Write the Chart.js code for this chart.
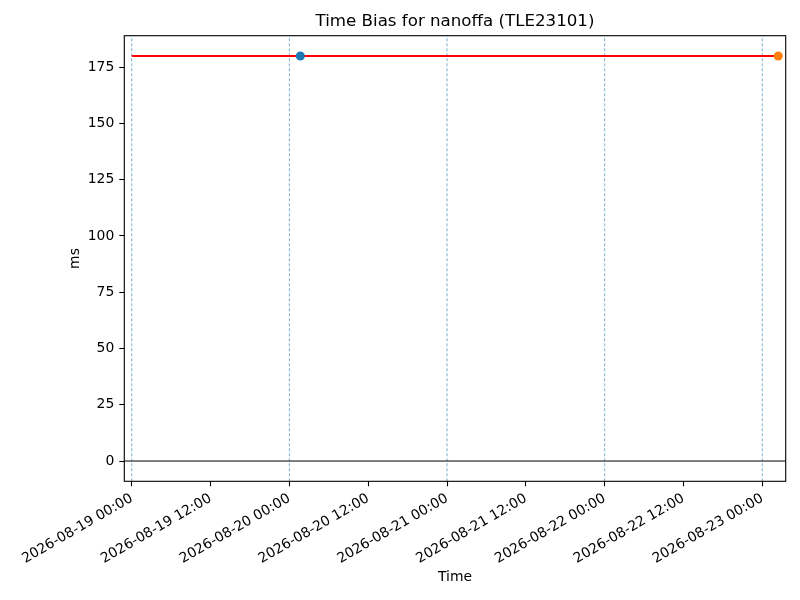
<!DOCTYPE html>
<html>
<head>
<meta charset="utf-8">
<script src="https://cdn.jsdelivr.net/npm/chart.js@4.4.0/dist/chart.umd.min.js"></script>
<style>
  body { margin: 0; background: #fff; }
</style>
</head>
<body>
<canvas id="myChart" width="800" height="600"></canvas>
<script>
const biasTimes = ['2026-08-19T00:00:00Z', '2026-08-23T02:26:00Z'];
const biasValues = [180, 180];

const pointTimes = ['2026-08-20T01:40:00Z', '2026-08-23T02:26:00Z'];
const pointValues = [180, 180];
const pointColors = ['#1f77b4', '#ff7f0e'];

const markerTimes = ['2026-08-19T00:00:00Z', '2026-08-20T00:00:00Z', '2026-08-21T00:00:00Z', '2026-08-22T00:00:00Z', '2026-08-23T00:00:00Z'];

const xTickTimes = ['2026-08-19T00:00:00Z', '2026-08-19T12:00:00Z', '2026-08-20T00:00:00Z', '2026-08-20T12:00:00Z', '2026-08-21T00:00:00Z', '2026-08-21T12:00:00Z', '2026-08-22T00:00:00Z', '2026-08-22T12:00:00Z', '2026-08-23T00:00:00Z'];
const yTicks = [0, 25, 50, 75, 100, 125, 150, 175];

const xRange = ['2026-08-18T22:52:00Z', '2026-08-23T03:34:00Z'];
const yRange = [-9, 189];

const font = 'DejaVu Sans';

function ms(t) {
    return Date.parse(t);
}

function pad(n) {
    return String(n).padStart(2, '0');
}

function formatTime(v) {
    const d = new Date(v);
    return d.getUTCFullYear() + '-' + pad(d.getUTCMonth() + 1) + '-' + pad(d.getUTCDate()) + ' ' + pad(d.getUTCHours()) + ':' + pad(d.getUTCMinutes());
}

const datasets = [];

for (let i = 0; i < pointTimes.length; i++) {
    datasets.push({
        data: [{x: ms(pointTimes[i]), y: pointValues[i]}],
        showLine: false,
        pointRadius: 4.5,
        backgroundColor: pointColors[i],
        borderColor: pointColors[i],
        borderWidth: 0,
        order: 0
    });
}
datasets.push({
    data: biasTimes.map((t, i) => ({x: ms(t), y: biasValues[i]})),
    showLine: true,
    borderColor: '#ff0000',
    borderWidth: 2,
    pointRadius: 0,
    order: 1
});
datasets.push({
    data: [{x: ms(xRange[0]), y: 0}, {x: ms(xRange[1]), y: 0}],
    showLine: true,
    borderColor: '#000000',
    borderWidth: 1,
    pointRadius: 0,
    order: 2
});
for (const t of markerTimes) {
    datasets.push({
        data: [{x: ms(t), y: yRange[0]}, {x: ms(t), y: yRange[1]}],
        showLine: true,
        borderColor: 'rgba(31,119,180,0.75)',
        borderWidth: 0.8,
        borderDash: [3, 2],
        pointRadius: 0,
        order: 3
    });
}

const frame = {
    id: 'frame',
    afterDatasetsDraw(chart) {
        const a = chart.chartArea;
        const ctx = chart.ctx;
        ctx.save();
        ctx.strokeStyle = '#000';
        ctx.lineWidth = 1.1;
        ctx.strokeRect(a.left, a.top, a.right - a.left, a.bottom - a.top);
        ctx.restore();
    }
};

new Chart(document.getElementById('myChart'), {
    type: 'scatter',
    data: {datasets: datasets},
    plugins: [frame],
    options: {
        responsive: false,
        animation: false,
        devicePixelRatio: 1,
        layout: {padding: {left: 0, right: 14.3, top: 0, bottom: 0}},
        plugins: {
            legend: {display: false},
            tooltip: {enabled: false},
            title: {
                display: true,
                fullSize: false,
                text: 'Time Bias for nanoffa (TLE23101)',
                color: '#000',
                font: {family: font, size: 16.67, weight: 'normal'},
                padding: {top: 12, bottom: 3.7}
            }
        },
        scales: {
            x: {
                type: 'linear',
                min: ms(xRange[0]),
                max: ms(xRange[1]),
                afterBuildTicks: scale => { scale.ticks = xTickTimes.map(t => ({value: ms(t)})); },
                afterFit: scale => { scale.height = 118.7; },
                grid: {drawOnChartArea: false, drawTicks: true, tickLength: 5, color: '#000', tickWidth: 1.1},
                border: {display: false},
                ticks: {
                    autoSkip: false,
                    minRotation: 30,
                    maxRotation: 30,
                    padding: 4,
                    color: '#000',
                    font: {family: font, size: 13.9},
                    callback: v => formatTime(v)
                },
                title: {
                    display: true,
                    text: 'Time',
                    color: '#000',
                    font: {family: font, size: 13.9},
                    padding: {top: 0, bottom: 14.7}
                }
            },
            y: {
                min: yRange[0],
                max: yRange[1],
                afterBuildTicks: scale => { scale.ticks = yTicks.map(v => ({value: v})); },
                afterFit: scale => { scale.width = 124.3; },
                grid: {drawOnChartArea: false, drawTicks: true, tickLength: 5, color: '#000', tickWidth: 1.1},
                border: {display: false},
                ticks: {
                    padding: 5,
                    color: '#000',
                    font: {family: font, size: 13.9}
                },
                title: {
                    display: true,
                    text: 'ms',
                    color: '#000',
                    font: {family: font, size: 13.9},
                    padding: {top: 66.7, bottom: 0}
                }
            }
        }
    }
});
</script>
</body>
</html>
